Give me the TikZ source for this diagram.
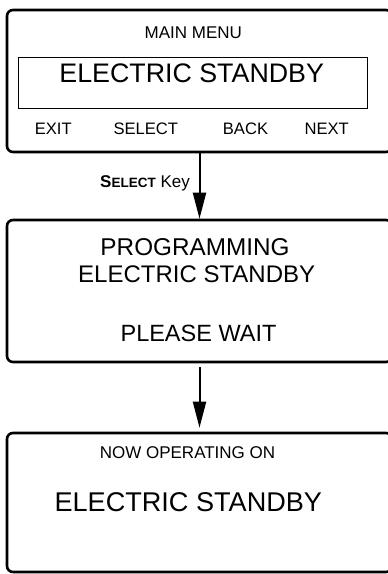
\documentclass[tikz,border=0pt]{standalone}
\usepackage{fontspec}
\setmainfont{Liberation Sans}
\usetikzlibrary{arrows.meta}
\tikzset{
  panel/.style={draw, line width=2.6pt, rounded corners=6pt, minimum width=385pt, inner sep=0pt},
  screen/.style={draw, line width=1pt, inner sep=0pt},
  txt/.style={inner sep=0pt, font=#1},
  flow/.style={line width=2pt, -{Triangle[length=26pt,width=13pt]}},
}
\newcommand{\fs}[1]{\fontsize{#1}{#1}\selectfont}
\begin{document}
\begin{tikzpicture}[x=1pt,y=-1pt]
\useasboundingbox (0,0) rectangle (388,574);
\clip (0,0) rectangle (388,574);
% panels
\node[panel, minimum height=142pt] (box1) at (199.5,81) {};
\node[panel, minimum height=142pt] (box2) at (199.5,291) {};
\node[panel, minimum height=139pt] (box3) at (199.5,502.5) {};
\node[screen, minimum width=349pt, minimum height=51pt] (scr) at (192.5,82.5) {};
% texts box 1
\node[txt=\fs{17}] (mm) at (193.3,32.5) {MAIN MENU};
\node[txt=\fs{26.8}] (es1) at (191.7,73.3) {ELECTRIC STANDBY};
\node[txt=\fs{16.6}] (exit) at (53.3,128.3) {EXIT};
\node[txt=\fs{16.6}] (sel) at (145.8,128.3) {SELECT};
\node[txt=\fs{16.6}] (back) at (245.5,128.3) {BACK};
\node[txt=\fs{16.6}] (next) at (326.7,128.3) {NEXT};
% texts box 2
\node[txt=\fs{24.3}] (prog) at (195,246.7) {PROGRAMMING};
\node[txt=\fs{24}] (es2) at (196.7,274) {ELECTRIC STANDBY};
\node[txt=\fs{23.5}] (wait) at (198.5,333) {PLEASE WAIT};
% texts box 3
\node[txt=\fs{17}] (now) at (187.5,453) {NOW OPERATING ON};
\node[txt=\fs{27.1}] (es3) at (188.3,502) {ELECTRIC STANDBY};
% arrows
\draw[flow] (box1.south) -- (box2.north);
\draw[flow, shorten <=4pt, shorten >=4pt] (box2.south) -- (box3.north);
\node[inner sep=0pt, anchor=base east] (key) at (190,187) {\fs{17}\textbf{S\fs{13.5}ELECT} Key};
\end{tikzpicture}
\end{document}
